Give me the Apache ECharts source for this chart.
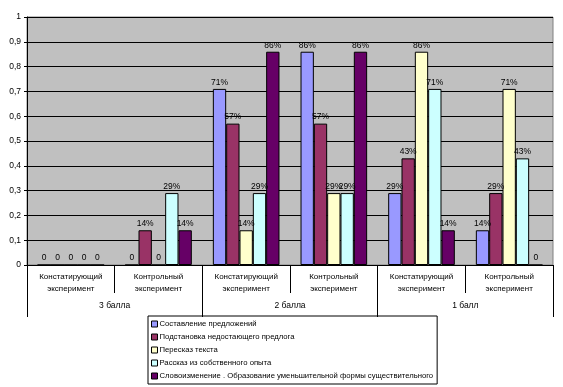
<!DOCTYPE html>
<html><head><meta charset="utf-8">
<script src="https://cdn.jsdelivr.net/npm/echarts@6/dist/echarts.min.js"></script>
<style>html,body{margin:0;padding:0;background:#fff}#c{width:563px;height:387px}</style>
</head><body><div id="c"></div>
<script>
var subCategories = ['Констатирующий\nэксперимент','Контрольный\nэксперимент','Констатирующий\nэксперимент','Контрольный\nэксперимент','Констатирующий\nэксперимент','Контрольный\nэксперимент'];
var groups = ['3 балла','2 балла','1 балл'];
var seriesNames = ['Составление предложений','Подстановка недостающего предлога','Пересказ текста','Рассказ из собственного опыта','Словоизменение . Образование уменьшительной формы существительного'];
var s1 = [0, 0, 0.71, 0.86, 0.29, 0.14];
var s2 = [0, 0.14, 0.57, 0.57, 0.43, 0.29];
var s3 = [0, 0, 0.14, 0.29, 0.86, 0.71];
var s4 = [0, 0.29, 0.29, 0.29, 0.71, 0.43];
var s5 = [0, 0.14, 0.86, 0.86, 0.14, 0];
var yTicks = ['0','0,1','0,2','0,3','0,4','0,5','0,6','0,7','0,8','0,9','1'];
var colors = ['#9999FF','#993366','#FFFFCC','#CCFFFF','#660066'];
var allData = [s1,s2,s3,s4,s5];

var FONT = "'Liberation Sans', Arial, sans-serif";
var chart = echarts.init(document.getElementById('c'), null, {renderer:'canvas'});
var series = allData.map(function(d,i){
  return {
    name: seriesNames[i], type:'bar', data:d, xAxisIndex:0, yAxisIndex:0,
    barGap:'0%', barCategoryGap:'24%',
    itemStyle:{color:colors[i], borderColor:'#000', borderWidth:1},
    label:{show:true, position:'top', distance:2, color:'#000', fontFamily:FONT, fontSize:8.5,
      formatter:function(p){ return p.value===0 ? '0' : Math.round(p.value*100)+'%'; }},
    emphasis:{disabled:true}, animation:false
  };
});
var grid = {left:27, right:10, top:17, bottom:122};
chart.setOption({
  animation:false,
  textStyle:{fontFamily:FONT},
  grid:[
    Object.assign({show:true, backgroundColor:'#C0C0C0', borderColor:'#808080', borderWidth:1}, grid),
    Object.assign({show:false}, grid)
  ],
  legend:{
    orient:'vertical', left:148, top:316, data:seriesNames,
    icon:'rect', itemWidth:6, itemHeight:6, itemGap:3,
    itemStyle:{borderColor:'#000', borderWidth:1},
    borderColor:'#000', borderWidth:1, padding:[3,4,3,3],
    textStyle:{fontFamily:FONT, fontSize:7.7, color:'#000', lineHeight:10, padding:[0,0,0,-3]},
    selectedMode:false
  },
  xAxis:[
    {type:'category', gridIndex:0, data:subCategories, position:'bottom',
     axisLine:{lineStyle:{color:'#000'}},
     axisTick:{show:true, length:28, interval:0, lineStyle:{color:'#000'}},
     axisLabel:{interval:0, margin:6, fontFamily:FONT, fontSize:8, color:'#000', lineHeight:12},
     splitLine:{show:false}},
    {type:'category', gridIndex:1, data:groups, position:'bottom',
     axisLine:{show:true, lineStyle:{color:'#000'}},
     axisTick:{show:true, length:52, interval:0, lineStyle:{color:'#000'}},
     axisLabel:{interval:0, margin:36, fontFamily:FONT, fontSize:8.5, color:'#000'},
     splitLine:{show:false}}
  ],
  yAxis:[
    {type:'value', gridIndex:0, min:0, max:1, interval:0.1,
     axisLine:{show:true, lineStyle:{color:'#000'}},
     axisTick:{show:true, length:3, lineStyle:{color:'#000'}},
     axisLabel:{margin:6, fontFamily:FONT, fontSize:8.5, color:'#000',
       formatter:function(v){ return yTicks[Math.round(v*10)]; }},
     splitLine:{show:true, lineStyle:{color:'#000', width:1}}},
    {type:'value', gridIndex:1, min:0, max:1, show:false}
  ],
  series:series
});
</script></body></html>
